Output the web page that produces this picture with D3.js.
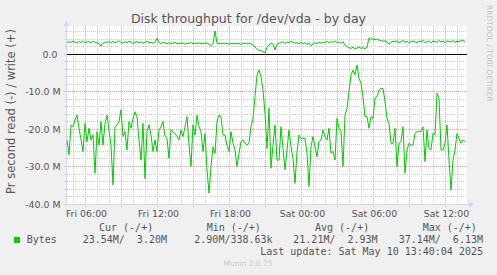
<!DOCTYPE html>
<html>
<head>
<meta charset="utf-8">
<script src="https://cdn.jsdelivr.net/npm/d3@7"></script>
<style>
    html, body { margin: 0; padding: 0; background: #F0F0F0; }
    svg { display: block; }
    text { font-family: "DejaVu Sans", sans-serif; fill: #555; }
    .mono { font-family: "DejaVu Sans Mono", monospace; font-size: 10px; white-space: pre; }
</style>
</head>
<body>
<svg id="chart" width="497" height="275"></svg>
<script>
// one sample every 10 minutes, values in MB/s
let startTime = new Date(2025, 4, 9, 4, 27, 30),
    stepMinutes = 10,
    spanMinutes = 2000;

let readMB = [
    22.9, 26.9, 18.9, 19.4, 17.6, 16.3, 19.8, 22.8, 26.0, 18.5,
    23.4, 19.8, 22.9, 21.6, 31.8, 20.7, 24.3, 18.0, 24.3, 18.5,
    16.3, 20.3, 24.3, 34.9, 19.4, 18.9, 18.0, 14.9, 22.0, 20.7,
    25.6, 18.0, 19.8, 17.2, 15.4, 16.7, 22.9, 28.3, 18.5, 33.2,
    20.7, 18.9, 21.6, 26.0, 22.9, 26.0, 20.3, 19.4, 18.0, 22.0,
    22.5, 27.8, 20.3, 20.7, 21.2, 22.0, 22.9, 20.3, 22.0, 19.4,
    16.7, 24.3, 30.0, 18.9, 21.6, 16.3, 19.4, 20.7, 26.0, 21.2,
    30.9, 37.1, 30.0, 24.7, 26.5, 18.0, 16.3, 16.7, 21.6, 21.6,
    24.3, 26.0, 20.7, 23.8, 25.6, 30.0, 26.5, 23.4, 22.9, 23.8,
    24.3, 23.8, 19.4, 17.2, 11.4, 5.6, 4.3, 6.0, 9.6, 15.8,
    25.2, 14.5, 30.5, 24.3, 18.9, 28.3, 28.3, 19.4, 25.2, 30.9,
    25.6, 20.3, 24.7, 27.8, 34.5, 26.0, 21.6, 22.5, 22.5, 22.5,
    26.5, 35.4, 24.7, 22.0, 24.7, 27.4, 23.4, 22.9, 20.3, 22.0,
    22.9, 19.8, 26.5, 26.0, 28.3, 17.2, 19.8, 20.7, 30.0, 16.3,
    14.5, 10.0, 5.6, 4.3, 5.6, 2.9, 6.5, 7.8, 11.4, 16.7,
    16.7, 19.8, 16.7, 17.2, 11.8, 11.4, 9.6, 9.2, 9.2, 12.7,
    17.2, 18.5, 23.8, 23.8, 19.8, 30.0, 23.8, 23.4, 19.4, 31.8,
    25.6, 23.8, 24.3, 24.3, 21.2, 20.7, 20.7, 20.7, 19.4, 28.7,
    20.3, 25.2, 25.6, 21.2, 21.6, 10.5, 11.8, 25.6, 25.6, 23.8,
    18.9, 28.3, 36.3, 28.3, 25.6, 21.2, 22.5, 23.8, 22.9, 23.5
];

let writeMB = [
    3.0, 3.3, 3.1, 3.4, 3.2, 2.9, 3.3, 3.1, 3.5, 3.0,
    3.2, 3.3, 2.9, 3.4, 3.1, 3.0, 2.8, 2.1, 2.9, 3.2,
    3.1, 3.3, 2.9, 3.4, 3.0, 3.2, 3.5, 3.1, 2.9, 3.3,
    3.0, 3.4, 3.2, 2.8, 3.1, 3.3, 3.0, 3.2, 2.9, 3.1,
    3.4, 3.0, 3.1, 2.9, 3.2, 4.2, 3.0, 2.8, 3.1, 2.9,
    2.7, 3.0, 2.8, 2.9, 3.1, 2.7, 2.9, 2.8, 3.0, 2.6,
    2.9, 2.8, 3.1, 2.7, 2.9, 2.8, 3.0, 2.7, 2.9, 2.8,
    3.0, 2.6, 2.2, 2.8, 6.1, 2.9, 2.8, 2.7, 2.9, 2.7,
    2.8, 2.6, 2.8, 2.7, 2.9, 2.7, 2.8, 2.6, 2.8, 2.9,
    2.7, 2.8, 2.7, 2.4, 1.9, 1.2, 1.0, 0.9, 0.6, 0.34,
    1.8, 2.4, 2.8, 2.7, 1.1, 2.6, 2.9, 3.0, 3.3, 2.8,
    3.2, 3.0, 3.4, 3.1, 2.9, 3.0, 2.7, 3.1, 2.8, 3.0,
    2.6, 2.9, 2.2, 2.7, 3.0, 2.8, 3.1, 2.9, 3.2, 3.0,
    3.4, 2.9, 3.3, 3.1, 3.5, 3.0, 3.2, 2.8, 3.3, 2.4,
    2.0, 1.7, 1.5, 1.8, 1.4, 1.6, 1.9, 1.5, 1.7, 1.4,
    1.8, 4.3, 3.9, 4.1, 3.8, 4.0, 3.7, 3.6, 3.4, 3.5,
    3.2, 2.6, 3.1, 3.4, 3.2, 3.5, 3.0, 3.3, 3.6, 3.1,
    3.4, 2.9, 3.3, 3.5, 3.2, 3.0, 3.4, 3.3, 3.6, 3.1,
    3.2, 3.5, 3.0, 3.4, 3.3, 3.1, 3.6, 3.2, 3.4, 3.0,
    3.5, 3.3, 3.2, 3.6, 3.1, 3.4, 3.3, 3.5, 3.6, 3.2
];

let legendHeaders = ["Cur (-/+)", "Min (-/+)", "Avg (-/+)", "Max (-/+)"],
    legendValues = ["23.54M/  3.20M", "2.90M/338.63k", "21.21M/  2.93M", "37.14M/  6.13M"],
    seriesName = "Bytes",
    titleText = "Disk throughput for /dev/vda - by day",
    yLabelText = "Pr second read (-) / write (+)",
    lastUpdate = "Last update: Sat May 10 13:40:04 2025",
    footer = "Munin 2.0.75",
    watermark = "RRDTOOL / TOBI OETIKER";

let lineColor = "#00CC00",
    axisColor = "#CFD6F8",
    minorGrid = "#C9C9C9",
    majorGrid = "#E2A3A3";

let plot = { left: 67, right: 467, top: 26, bottom: 204 };

let svg = d3.select("#chart");

// canvas
svg.append("rect")
    .attr("x", plot.left)
    .attr("y", plot.top)
    .attr("width", plot.right - plot.left)
    .attr("height", plot.bottom - plot.top)
    .attr("fill", "#FFFFFF");

let endTime = d3.timeMinute.offset(startTime, spanMinutes);

let xScale = d3.scaleTime()
    .domain([startTime, endTime])
    .range([plot.left, plot.right]);

let yScale = d3.scaleLinear()
    .domain([-40, 178 / 3.75 - 40])
    .range([plot.bottom, plot.top]);

let timeOf = i => d3.timeMinute.offset(startTime, i * stepMinutes);
let px = v => Math.floor(v) + 0.5;

// grid
let hours = d3.timeHour.range(d3.timeHour.ceil(startTime), endTime);
let grid = svg.append("g");

hours.forEach(h => {
    let major = h.getHours() % 3 === 0;
    grid.append("line")
        .attr("x1", px(xScale(h))).attr("x2", px(xScale(h)))
        .attr("y1", plot.top).attr("y2", plot.bottom + (major ? 3 : 2))
        .attr("stroke", major ? majorGrid : minorGrid)
        .attr("stroke-dasharray", "1,1");
});

d3.range(-40, 8, 2).forEach(v => {
    let major = v % 10 === 0;
    if (yScale(v) < plot.top) return;
    grid.append("line")
        .attr("x1", plot.left - (major ? 3 : 2)).attr("x2", plot.right)
        .attr("y1", px(yScale(v))).attr("y2", px(yScale(v)))
        .attr("stroke", major ? majorGrid : minorGrid)
        .attr("stroke-dasharray", "1,1");
});

// axes
svg.append("line")
    .attr("x1", plot.left - 0.5).attr("x2", plot.left - 0.5)
    .attr("y1", plot.bottom + 1).attr("y2", plot.top - 1)
    .attr("stroke", axisColor);

svg.append("path")
    .attr("d", d3.line()([[plot.left - 3.5, plot.top], [plot.left + 2.5, plot.top], [plot.left - 0.5, plot.top - 5]]) + "Z")
    .attr("fill", axisColor);

svg.append("line")
    .attr("x1", plot.left - 3).attr("x2", plot.right + 3)
    .attr("y1", plot.bottom + 0.5).attr("y2", plot.bottom + 0.5)
    .attr("stroke", axisColor);

svg.append("path")
    .attr("d", d3.line()([[plot.right + 2, plot.bottom - 2.5], [plot.right + 2, plot.bottom + 3.5], [plot.right + 7, plot.bottom + 0.5]]) + "Z")
    .attr("fill", axisColor);

// tick labels
svg.append("g")
    .selectAll("text")
    .data(d3.timeHour.every(6).range(startTime, endTime))
    .join("text")
    .attr("x", d => xScale(d) + 1)
    .attr("y", 216.5)
    .attr("text-anchor", "middle")
    .style("font-size", "9.4px")
    .text(d => d3.timeFormat("%a %H:%M")(d));

svg.append("g")
    .selectAll("text")
    .data(d3.range(-40, 1, 10))
    .join("text")
    .attr("x", 60.5)
    .attr("y", d => yScale(d) + 3.5)
    .attr("text-anchor", "end")
    .style("font-size", "9.4px")
    .text(d => d === 0 ? "0.0\u00a0" : d.toFixed(1) + " M");

// zero rule
svg.append("line")
    .attr("x1", plot.left).attr("x2", plot.right)
    .attr("y1", px(yScale(0))).attr("y2", px(yScale(0)))
    .attr("stroke", "#000");

// series
let line = d3.line()
    .x((d, i) => xScale(timeOf(i)))
    .y(d => yScale(d));

svg.append("path")
    .datum(readMB.map(v => -v))
    .attr("d", line)
    .attr("fill", "none")
    .attr("stroke", lineColor)
    .attr("stroke-width", 1);

svg.append("path")
    .datum(writeMB)
    .attr("d", line)
    .attr("fill", "none")
    .attr("stroke", lineColor)
    .attr("stroke-width", 1);

// titles
svg.append("text")
    .attr("x", 248.5)
    .attr("y", 22.5)
    .attr("text-anchor", "middle")
    .style("font-size", "12.5px")
    .text(titleText);

svg.append("text")
    .attr("transform", "translate(15, 111.5) rotate(-90)")
    .attr("text-anchor", "middle")
    .style("font-size", "11.5px")
    .text(yLabelText);

svg.append("text")
    .attr("transform", "translate(486.5, 5) rotate(90)")
    .style("font-size", "7.5px")
    .style("fill", "#C4C4C4")
    .text(watermark);

// legend
let colStarts = [99, 206.7, 315, 422.7],
    valStarts = [82.7, 194.3, 293.3, 398.7];

svg.append("g")
    .selectAll("text")
    .data(legendHeaders)
    .join("text")
    .attr("class", "mono")
    .attr("x", (d, i) => colStarts[i])
    .attr("y", 231)
    .text(d => d);

svg.append("rect")
    .attr("x", 14)
    .attr("y", 237)
    .attr("width", 6)
    .attr("height", 6)
    .attr("fill", lineColor);

svg.append("text")
    .attr("class", "mono")
    .attr("x", 26.7)
    .attr("y", 243)
    .text(seriesName);

svg.append("g")
    .selectAll("text")
    .data(legendValues)
    .join("text")
    .attr("class", "mono")
    .attr("x", (d, i) => valStarts[i])
    .attr("y", 243)
    .text(d => d);

svg.append("text")
    .attr("class", "mono")
    .attr("x", 483)
    .attr("y", 255)
    .attr("text-anchor", "end")
    .text(lastUpdate);

svg.append("text")
    .attr("x", 248)
    .attr("y", 265.5)
    .attr("text-anchor", "middle")
    .style("font-size", "7.5px")
    .style("fill", "#C8C8C8")
    .text(footer);
</script>
</body>
</html>
